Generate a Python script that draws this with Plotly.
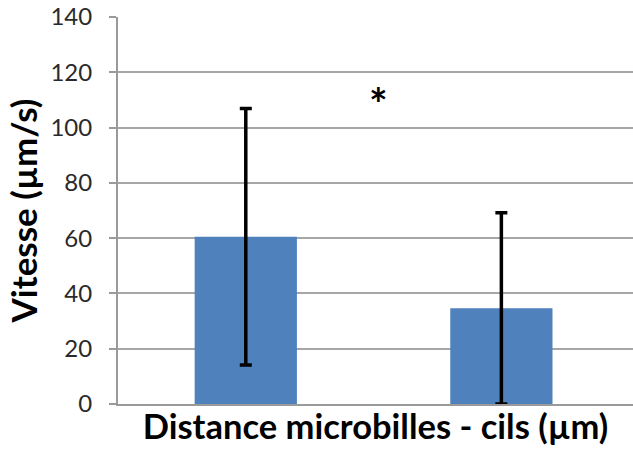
import plotly.graph_objects as go

categories = [0, 1]
vitesse = [60.5, 34.6]
ecart = [46.4, 34.6]
y_ticks = [0, 20, 40, 60, 80, 100, 120, 140]
star_x = [0.52]
star_y = [109]

fig = go.Figure()
fig.add_trace(go.Bar(
    x=categories, y=vitesse, width=0.4,
    marker=dict(color="#4F81BD", line=dict(width=0)),
    error_y=dict(type="data", array=ecart, visible=True, color="black", thickness=3.5, width=6),
))
fig.add_annotation(x=star_x[0], y=star_y[0], text="<b>*</b>", showarrow=False,
                   font=dict(family="Lato", size=44, color="black"), xref="x", yref="y")

fig.update_layout(
    width=633, height=452,
    margin=dict(l=118, r=0, t=17, b=48),
    plot_bgcolor="white", paper_bgcolor="white",
    showlegend=False,
    font=dict(family="Lato", color="#222222"),
)
fig.update_xaxes(
    range=[-0.5, 1.515], showticklabels=False, ticks="", showgrid=False,
    showline=True, linecolor="#9A9A9A", linewidth=2, automargin=False,
    title=dict(text="<b>Distance microbilles - cils (µm)</b>", font=dict(family="Lato", size=34.5, color="black"), standoff=10),
    zeroline=False, fixedrange=True,
)
fig.update_yaxes(
    range=[0, 140], tickvals=y_ticks, ticks="outside", ticklen=7, tickcolor="#9A9A9A", tickwidth=1.5,
    showline=True, linecolor="#9A9A9A", linewidth=2, automargin=False,
    showgrid=True, gridcolor="#A6A6A6", gridwidth=1.5,
    tickfont=dict(family="Lato", size=24, color="#2a2a2a"),
    ticklabelstandoff=12, ticklabeloverflow="allow",
    title=dict(text="<b>Vitesse (µm/s)</b>", font=dict(family="Lato", size=35, color="black"), standoff=2),
    zeroline=False,
)
fig.write_html("out.html", config={"displayModeBar": False},
               post_script="document.body.style.margin='0';document.body.style.overflow='hidden';")
